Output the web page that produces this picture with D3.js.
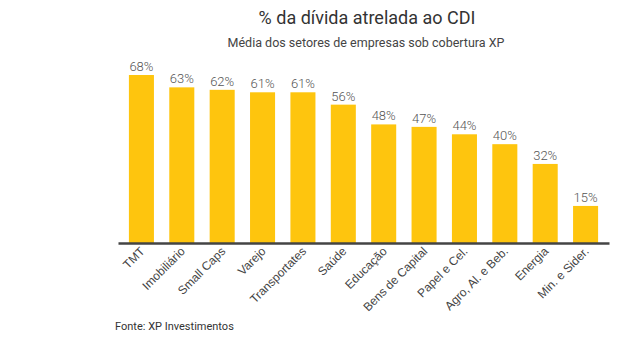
<!DOCTYPE html>
<html>
<head>
<meta charset="utf-8">
<script src="https://cdn.jsdelivr.net/npm/d3@7"></script>
<style>
  html, body { margin: 0; padding: 0; background: #fff; }
  svg { display: block; font-family: Roboto, "Noto Sans", sans-serif; }
</style>
</head>
<body>
<script>
// Setores cobertos e % da dívida indexada ao CDI
const categories = ["TMT", "Imobiliário", "Small Caps", "Varejo", "Transportates", "Saúde",
  "Educação", "Bens de Capital", "Papel e Cel.", "Agro, Al. e Beb.", "Energia", "Min. e Sider."];
const values = [68, 63, 62, 61, 61, 56, 48, 47, 44, 40, 32, 15];

const title = "% da dívida atrelada ao CDI";
const subtitle = "Média dos setores de empresas sob cobertura XP";
const source = "Fonte: XP Investimentos";

const W = 639, H = 338;
const svg = d3.select("body").append("svg").attr("width", W).attr("height", H);

const baseY = 243;
const x = d3.scaleBand().domain(categories).range([118, 609])
  .paddingInner(0.38).paddingOuter(0.27);
const y = d3.scaleLinear().domain([0, 68]).range([baseY, 75]);

svg.append("text").attr("x", 367).attr("y", 24).attr("text-anchor", "middle")
  .attr("font-size", 18).attr("fill", "#333").text(title);
svg.append("text").attr("x", 366).attr("y", 47).attr("text-anchor", "middle")
  .attr("font-size", 12.5).attr("fill", "#444").text(subtitle);

const data = categories.map((c, i) => ({ c, v: values[i] }));

svg.append("g").selectAll("rect").data(data).join("rect")
  .attr("x", d => x(d.c)).attr("width", x.bandwidth())
  .attr("y", d => y(d.v)).attr("height", d => baseY - y(d.v))
  .attr("fill", "#FEC50E");

svg.append("g").selectAll("text").data(data).join("text")
  .attr("x", d => x(d.c) + x.bandwidth() / 2).attr("y", d => y(d.v) - 4)
  .attr("text-anchor", "middle").attr("font-size", 13).attr("font-weight", 300)
  .attr("fill", "#555")
  .text(d => d.v + "%");

// eixo X com rótulos inclinados
const axis = svg.append("g").attr("transform", `translate(0,${baseY})`)
  .call(d3.axisBottom(x).tickSize(0).tickPadding(0));
axis.select(".domain").attr("stroke", "#444").attr("stroke-width", 2.5);
axis.selectAll(".tick text")
  .attr("font-size", 12).attr("fill", "#444").attr("font-family", null)
  .attr("text-anchor", "end").attr("dy", null).attr("y", 0)
  .attr("transform", "translate(4,9) rotate(-45)");

svg.append("text").attr("x", 115).attr("y", 330).attr("font-size", 11)
  .attr("fill", "#333").text(source);
</script>
</body>
</html>
